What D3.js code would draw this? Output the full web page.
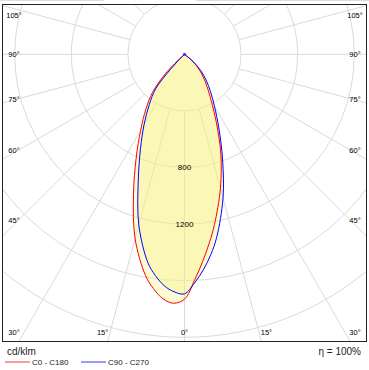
<!DOCTYPE html>
<html>
<head>
<meta charset="utf-8">
<script src="https://cdn.jsdelivr.net/npm/d3@7"></script>
<style>
  body { margin: 0; background: #fff; }
  svg { display: block; font-family: Arial, "Liberation Sans", sans-serif; }
</style>
</head>
<body>
<svg id="chart" width="369" height="370"></svg>
<script>
// gamma angles (deg from nadir) and intensities in cd/klm
var gammas = [0, 2.5, 5, 7.5, 10, 15, 20, 25, 30, 35, 40, 45, 50, 55, 60, 65, 70, 75, 80, 85, 90];
var c0   = [1731, 1601, 1470, 1344, 1221, 981, 751, 534, 376, 276, 201, 136, 73, 0, 0, 0, 0, 0, 0, 0, 0];
var c180 = [1731, 1761, 1735, 1672, 1587, 1349, 1054, 808, 620, 477, 352, 175, 0, 0, 0, 0, 0, 0, 0, 0, 0];
var c90  = [1693, 1618, 1529, 1427, 1312, 1052, 786, 574, 423, 319, 237, 161, 78, 0, 0, 0, 0, 0, 0, 0, 0];
var c270 = [1693, 1680, 1642, 1577, 1494, 1248, 956, 736, 570, 434, 313, 60, 0, 0, 0, 0, 0, 0, 0, 0, 0];

var rings = [400, 800, 1200, 1600, 2000, 2400];
var ringLabels = [800, 1200];
var spokes = d3.range(0, 360, 15);
var angleLabels = [
  {a: -105, t: '105°'}, {a: -90, t: '90°'}, {a: -75, t: '75°'}, {a: -60, t: '60°'}, {a: -45, t: '45°'},
  {a: -30, t: '30°'}, {a: -15, t: '15°'}, {a: 0, t: '0°'}, {a: 15, t: '15°'}, {a: 30, t: '30°'},
  {a: 45, t: '45°'}, {a: 60, t: '60°'}, {a: 75, t: '75°'}, {a: 90, t: '90°'}, {a: 105, t: '105°'}
];
var series = [
  {name: 'C0 - C180', left: c180, right: c0, color: '#ff0000', legend: '#ff9a9a'},
  {name: 'C90 - C270', left: c270, right: c90, color: '#0000ff', legend: '#9a9aff'}
];

var svg = d3.select('#chart');
var frame = {x: 2.5, y: 4.5, w: 364, h: 337};
var cx = 184.5, cy = 54.3;
var r = d3.scaleLinear().domain([0, 400]).range([0, 56.6]);

svg.append('defs').append('clipPath').attr('id', 'clip')
  .append('rect').attr('x', frame.x).attr('y', frame.y).attr('width', frame.w).attr('height', frame.h);

// little stray strip above the frame
svg.append('line').attr('x1', 0).attr('x2', 104).attr('y1', 0.5).attr('y2', 0.5).attr('stroke', '#ddd');
svg.append('line').attr('x1', 196).attr('x2', 369).attr('y1', 0.5).attr('y2', 0.5).attr('stroke', '#ddd');

var g = svg.append('g').attr('clip-path', 'url(#clip)');
var p = g.append('g').attr('transform', 'translate(' + cx + ',' + cy + ')');

// grid
p.selectAll('.ring').data(rings).enter().append('circle')
  .attr('r', function(d) { return r(d); })
  .attr('fill', 'none').attr('stroke', '#dadada').attr('stroke-width', 1);

p.selectAll('.spoke').data(spokes).enter().append('line')
  .attr('x1', function(d) { return r(400) * Math.sin(d * Math.PI / 180); })
  .attr('y1', function(d) { return r(400) * Math.cos(d * Math.PI / 180); })
  .attr('x2', function(d) { return r(3000) * Math.sin(d * Math.PI / 180); })
  .attr('y2', function(d) { return r(3000) * Math.cos(d * Math.PI / 180); })
  .attr('stroke', '#dadada').attr('stroke-width', 1);

// curves: left half = C180/C270, right half = C0/C90
function pts(s) {
  var a = [];
  for (var i = gammas.length - 1; i >= 0; i--) a.push([Math.PI + gammas[i] * Math.PI / 180, r(s.left[i])]);
  for (var j = 1; j < gammas.length; j++) a.push([Math.PI - gammas[j] * Math.PI / 180, r(s.right[j])]);
  return a;
}
var line = d3.lineRadial().curve(d3.curveCatmullRom.alpha(0.5));

p.selectAll('.fill').data(series).enter().append('path')
  .attr('d', function(d) { return line(pts(d)) + 'Z'; })
  .attr('fill', '#f9f47a').attr('fill-opacity', 0.32).attr('stroke', 'none');

p.selectAll('.curve').data(series).enter().append('path')
  .attr('d', function(d) { return line(pts(d)); })
  .attr('fill', 'none').attr('stroke', function(d) { return d.color; }).attr('stroke-width', 1);

p.append('circle').attr('r', 1.5).attr('fill', '#5020ff');

// ring labels
p.selectAll('.rl').data(ringLabels).enter().append('text')
  .attr('x', 0).attr('y', function(d) { return r(d); })
  .attr('dy', '0.35em').attr('text-anchor', 'middle')
  .attr('font-size', 8).attr('fill', '#000')
  .text(function(d) { return d; });

// angle labels: side ones on column x=18/351, bottom ones from the ray at y=360
var lab = {x0: 14, x1: 355, y0: 15, y1: 332, cl: 18, cr: 351, yb: 360};
g.selectAll('.al').data(angleLabels).enter().append('text')
  .each(function(d) {
    var rad = d.a * Math.PI / 180, dx = Math.sin(rad), dy = Math.cos(rad);
    var x, y;
    var tSide = dx < 0 ? (lab.cl - cx) / dx : dx > 0 ? (lab.cr - cx) / dx : Infinity;
    var ySide = cy + tSide * dy;
    if (ySide <= lab.y1) {
      x = dx < 0 ? lab.x0 : lab.x1;
      y = Math.max(lab.y0, ySide);
    } else {
      var tb = (lab.yb - cy) / dy;
      x = Math.min(lab.x1, Math.max(lab.x0, cx + tb * dx));
      y = lab.y1;
    }
    d3.select(this).attr('x', x).attr('y', y);
  })
  .attr('dy', '0.35em').attr('text-anchor', 'middle')
  .attr('font-size', 7.5).attr('fill', '#000')
  .text(function(d) { return d.t; });

svg.append('rect').attr('x', frame.x).attr('y', frame.y).attr('width', frame.w).attr('height', frame.h)
  .attr('fill', 'none').attr('stroke', '#222').attr('stroke-width', 1);

// footer
svg.append('text').attr('x', 7).attr('y', 355).attr('font-size', 10).attr('fill', '#222').text('cd/klm');
svg.append('text').attr('x', 361).attr('y', 355).attr('text-anchor', 'end').attr('font-size', 10).attr('fill', '#222').text('η = 100%');

var lg = svg.selectAll('.lg').data(series).enter().append('g')
  .attr('transform', function(d, i) { return 'translate(' + (5 + i * 76) + ',362)'; });
lg.append('line').attr('x1', 0).attr('x2', 25).attr('stroke', function(d) { return d.legend; }).attr('stroke-width', 2);
lg.append('text').attr('x', 27).attr('dy', '0.35em').attr('font-size', 8).attr('fill', '#222')
  .text(function(d) { return d.name; });
</script>
</body>
</html>
